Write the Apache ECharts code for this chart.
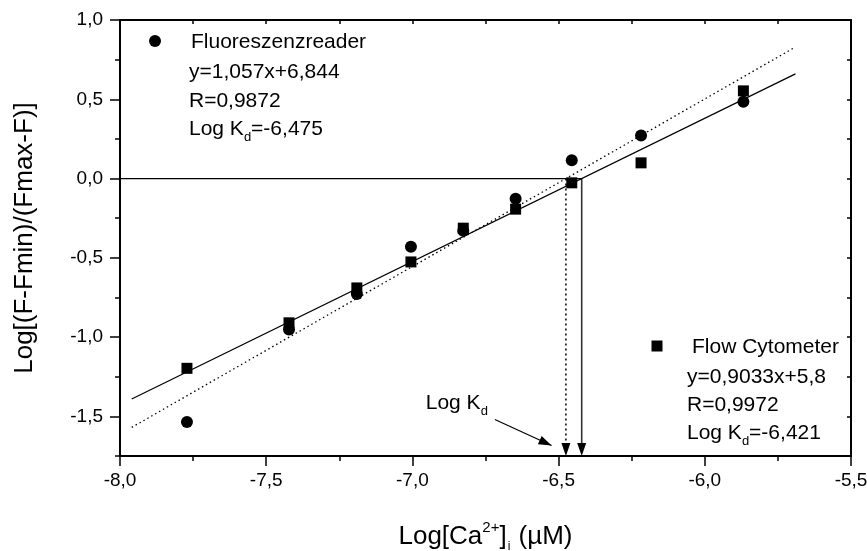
<!DOCTYPE html>
<html>
<head>
<meta charset="utf-8">
<script src="https://cdn.jsdelivr.net/npm/echarts@6/dist/echarts.min.js"></script>
<style>
  html, body { margin: 0; padding: 0; background: #fff; }
  #chart { width: 867px; height: 551px; }
</style>
</head>
<body>
<div id="chart"></div>
<script>
// Log of free calcium concentration (same steps for both methods)
const logCa = [-7.771, -7.422, -7.190, -7.005, -6.826, -6.647, -6.455, -6.218, -5.868];
// Log[(F-Fmin)/(Fmax-F)] measured with the fluorescence plate reader
const fluorY = [-1.535, -0.952, -0.728, -0.430, -0.330, -0.128, 0.115, 0.272, 0.484];
// Log[(F-Fmin)/(Fmax-F)] measured with the flow cytometer
const flowY = [-1.197, -0.910, -0.690, -0.526, -0.313, -0.193, -0.027, 0.099, 0.553];

// Linear regressions and resulting Kd
const fluorFit = { slope: 1.057, intercept: 6.844, r: 0.9872, logKd: -6.475 };
const flowFit = { slope: 0.9033, intercept: 5.8, r: 0.9972, logKd: -6.421 };
const fitRange = [-7.96, -5.69];

// Axis ranges and labelled ticks
const xRange = [-8.0, -5.5];
const yRange = [-1.75, 1.0];
const yTicks = [-1.5, -1.0, -0.5, 0.0, 0.5, 1.0];

// "Log Kd" pointer: tail and head in data units
const kdPointer = [-6.718, -1.520, -6.524, -1.684];

const FONT = '"Liberation Sans", Arial, sans-serif';
const comma = v => String(v).replace('.', ',');
const tickFmt = v => v.toFixed(1).replace('.', ',');
const fitLine = f => fitRange.map(x => [x, f.slope * x + f.intercept]);

const chart = echarts.init(document.getElementById('chart'), null, { renderer: 'canvas' });

const axisLine = { show: true, onZero: false, lineStyle: { color: '#000', width: 2 } };

function arrowHead(tip, from, len, width) {
  const dx = tip[0] - from[0], dy = tip[1] - from[1];
  const d = Math.sqrt(dx * dx + dy * dy);
  const ux = dx / d, uy = dy / d;
  const bx = tip[0] - ux * len, by = tip[1] - uy * len;
  return [[tip[0], tip[1]], [bx - uy * width / 2, by + ux * width / 2], [bx + uy * width / 2, by - ux * width / 2]];
}

const rich = {
  n: { fontSize: 21, fontFamily: FONT, color: '#000', lineHeight: 24, verticalAlign: 'bottom' },
  s: { fontSize: 13, fontFamily: FONT, color: '#000', lineHeight: 13, verticalAlign: 'bottom', padding: [0, 0, -4, 0] }
};

function legendBlock(x, y, symbol, lines) {
  const children = [];
  if (symbol === 'circle') {
    children.push({ type: 'circle', shape: { cx: x, cy: y, r: 6 }, style: { fill: '#000' } });
  } else {
    children.push({ type: 'rect', shape: { x: x - 5.5, y: y - 5.5, width: 11, height: 11 }, style: { fill: '#000' } });
  }
  lines.forEach(ln => {
    children.push({
      type: 'text',
      x: ln.x, y: ln.y,
      style: { text: ln.text, rich: rich, verticalAlign: 'middle', align: 'left', fill: '#000' }
    });
  });
  return { type: 'group', children };
}

const option = {
  backgroundColor: '#fff',
  animation: false,
  grid: { left: 120, right: 16, top: 20, bottom: 95, outerBoundsMode: 'none' },
  xAxis: [
    {
      type: 'value', position: 'bottom', min: xRange[0], max: xRange[1], interval: 0.5,
      axisLine,
      axisTick: { show: true, inside: false, length: 10, lineStyle: { color: '#000', width: 1.5 } },
      minorTick: { show: true, splitNumber: 2, length: 5, lineStyle: { color: '#000', width: 1.5 } },
      splitLine: { show: false },
      axisLabel: { formatter: tickFmt, fontSize: 19, fontFamily: FONT, color: '#000', margin: 15 },
      name: '{n|Log[Ca}{sup|2+}{n|]}{sub|i}{n| (µM)}',
      nameLocation: 'middle', nameGap: 64,
      nameTextStyle: {
        fontSize: 26, fontFamily: FONT, color: '#000',
        rich: {
          n: { fontSize: 26, fontFamily: FONT, color: '#000', lineHeight: 30, verticalAlign: 'bottom' },
          sup: { fontSize: 15, fontFamily: FONT, color: '#000', lineHeight: 15, verticalAlign: 'top', padding: [0, 0, 0, 0] },
          sub: { fontSize: 12, fontFamily: FONT, color: '#000', lineHeight: 12, verticalAlign: 'bottom', padding: [0, 1, -3, 1] }
        }
      }
    },
    {
      type: 'value', position: 'top', min: xRange[0], max: xRange[1], interval: 0.25,
      axisLine,
      axisTick: { show: true, inside: true, length: 4, lineStyle: { color: '#000', width: 1.5 } },
      axisLabel: { show: false },
      splitLine: { show: false }
    }
  ],
  yAxis: [
    {
      type: 'value', position: 'left', min: yRange[0], max: yRange[1],
      axisLine,
      axisTick: { show: true, inside: false, length: 10, customValues: yTicks, lineStyle: { color: '#000', width: 1.5 } },
      axisLabel: { customValues: yTicks, formatter: tickFmt, fontSize: 19, fontFamily: FONT, color: '#000', margin: 17 },
      splitLine: { show: false },
      name: 'Log[(F-Fmin)/(Fmax-F)]',
      nameLocation: 'middle', nameGap: 82,
      nameTextStyle: { fontSize: 26, fontFamily: FONT, color: '#000' }
    },
    {
      type: 'value', position: 'left', min: yRange[0], max: yRange[1], interval: 0.25,
      axisLine: { show: false, onZero: false },
      axisTick: { show: true, inside: false, length: 5, lineStyle: { color: '#000', width: 1.5 } },
      axisLabel: { show: false },
      splitLine: { show: false }
    },
    {
      type: 'value', position: 'right', min: yRange[0], max: yRange[1], interval: 0.25,
      axisLine,
      axisTick: { show: true, inside: true, length: 4, lineStyle: { color: '#000', width: 1.5 } },
      axisLabel: { show: false },
      splitLine: { show: false }
    }
  ],
  graphic: [
    legendBlock(155, 41, 'circle', [
      { x: 191, y: 41, text: '{n|Fluoreszenzreader}' },
      { x: 189, y: 71, text: '{n|y=' + comma(fluorFit.slope) + 'x+' + comma(fluorFit.intercept) + '}' },
      { x: 189, y: 100, text: '{n|R=' + comma(fluorFit.r) + '}' },
      { x: 189, y: 128, text: '{n|Log K}{s|d}{n|=' + comma(fluorFit.logKd) + '}' }
    ]),
    legendBlock(657, 346, 'rect', [
      { x: 692, y: 346, text: '{n|Flow Cytometer}' },
      { x: 687, y: 376, text: '{n|y=' + comma(flowFit.slope) + 'x+' + comma(flowFit.intercept) + '}' },
      { x: 687, y: 404, text: '{n|R=' + comma(flowFit.r) + '}' },
      { x: 687, y: 432, text: '{n|Log K}{s|d}{n|=' + comma(flowFit.logKd) + '}' }
    ])
  ],
  series: [
    {
      name: 'Fluoreszenzreader fit', type: 'line', xAxisIndex: 0, yAxisIndex: 0,
      data: fitLine(fluorFit), symbol: 'none', silent: true,
      lineStyle: { color: '#000', width: 1.3, type: [1.5, 3] }
    },
    {
      name: 'Flow Cytometer fit', type: 'line', xAxisIndex: 0, yAxisIndex: 0,
      data: fitLine(flowFit), symbol: 'none', silent: true,
      lineStyle: { color: '#000', width: 1.2 }
    },
    {
      name: 'baseline', type: 'line', xAxisIndex: 0, yAxisIndex: 0,
      data: [[xRange[0], 0], [flowFit.logKd, 0]], symbol: 'none', silent: true,
      lineStyle: { color: '#000', width: 1.3 }
    },
    {
      name: 'Kd drop lines', type: 'custom', xAxisIndex: 0, yAxisIndex: 0, silent: true,
      data: [[flowFit.logKd, 0, 0], [fluorFit.logKd, 0, 1]],
      renderItem(params, api) {
        const x = api.value(0);
        const top = api.coord([x, api.value(1)]);
        const bottom = api.coord([x, yRange[0]]);
        const dotted = api.value(2) === 1;
        const headH = 13, headW = 9;
        return {
          type: 'group',
          children: [
            { type: 'line', shape: { x1: top[0], y1: top[1], x2: bottom[0], y2: bottom[1] - headH + 1 },
              style: { stroke: dotted ? '#000' : '#333', lineWidth: dotted ? 1.5 : 1.6, lineDash: dotted ? [2, 3] : null } },
            { type: 'polygon', shape: { points: arrowHead(bottom, top, headH, headW) }, style: { fill: '#000' } }
          ]
        };
      }
    },
    {
      name: 'Kd pointer', type: 'custom', xAxisIndex: 0, yAxisIndex: 0, silent: true,
      data: [kdPointer],
      renderItem(params, api) {
        const tail = api.coord([api.value(0), api.value(1)]);
        const head = api.coord([api.value(2), api.value(3)]);
        const head0 = arrowHead(head, tail, 13, 9);
        return {
          type: 'group',
          children: [
            { type: 'line', shape: { x1: tail[0], y1: tail[1], x2: head[0], y2: head[1] }, style: { stroke: '#000', lineWidth: 1.2 } },
            { type: 'polygon', shape: { points: head0 }, style: { fill: '#000' } },
            { type: 'text', x: tail[0] - 7, y: tail[1] - 18,
              style: { text: '{n|Log K}{s|d}', rich: rich, align: 'right', verticalAlign: 'middle', fill: '#000' } }
          ]
        };
      }
    },
    {
      name: 'Fluoreszenzreader', type: 'scatter', xAxisIndex: 0, yAxisIndex: 0,
      data: logCa.map((x, i) => [x, fluorY[i]]),
      symbol: 'circle', symbolSize: 12,
      itemStyle: { color: '#000', opacity: 1 }
    },
    {
      name: 'Flow Cytometer', type: 'scatter', xAxisIndex: 0, yAxisIndex: 0,
      data: logCa.map((x, i) => [x, flowY[i]]),
      symbol: 'rect', symbolSize: 11,
      itemStyle: { color: '#000', opacity: 1 }
    }
  ]
};

chart.setOption(option);
</script>
</body>
</html>
